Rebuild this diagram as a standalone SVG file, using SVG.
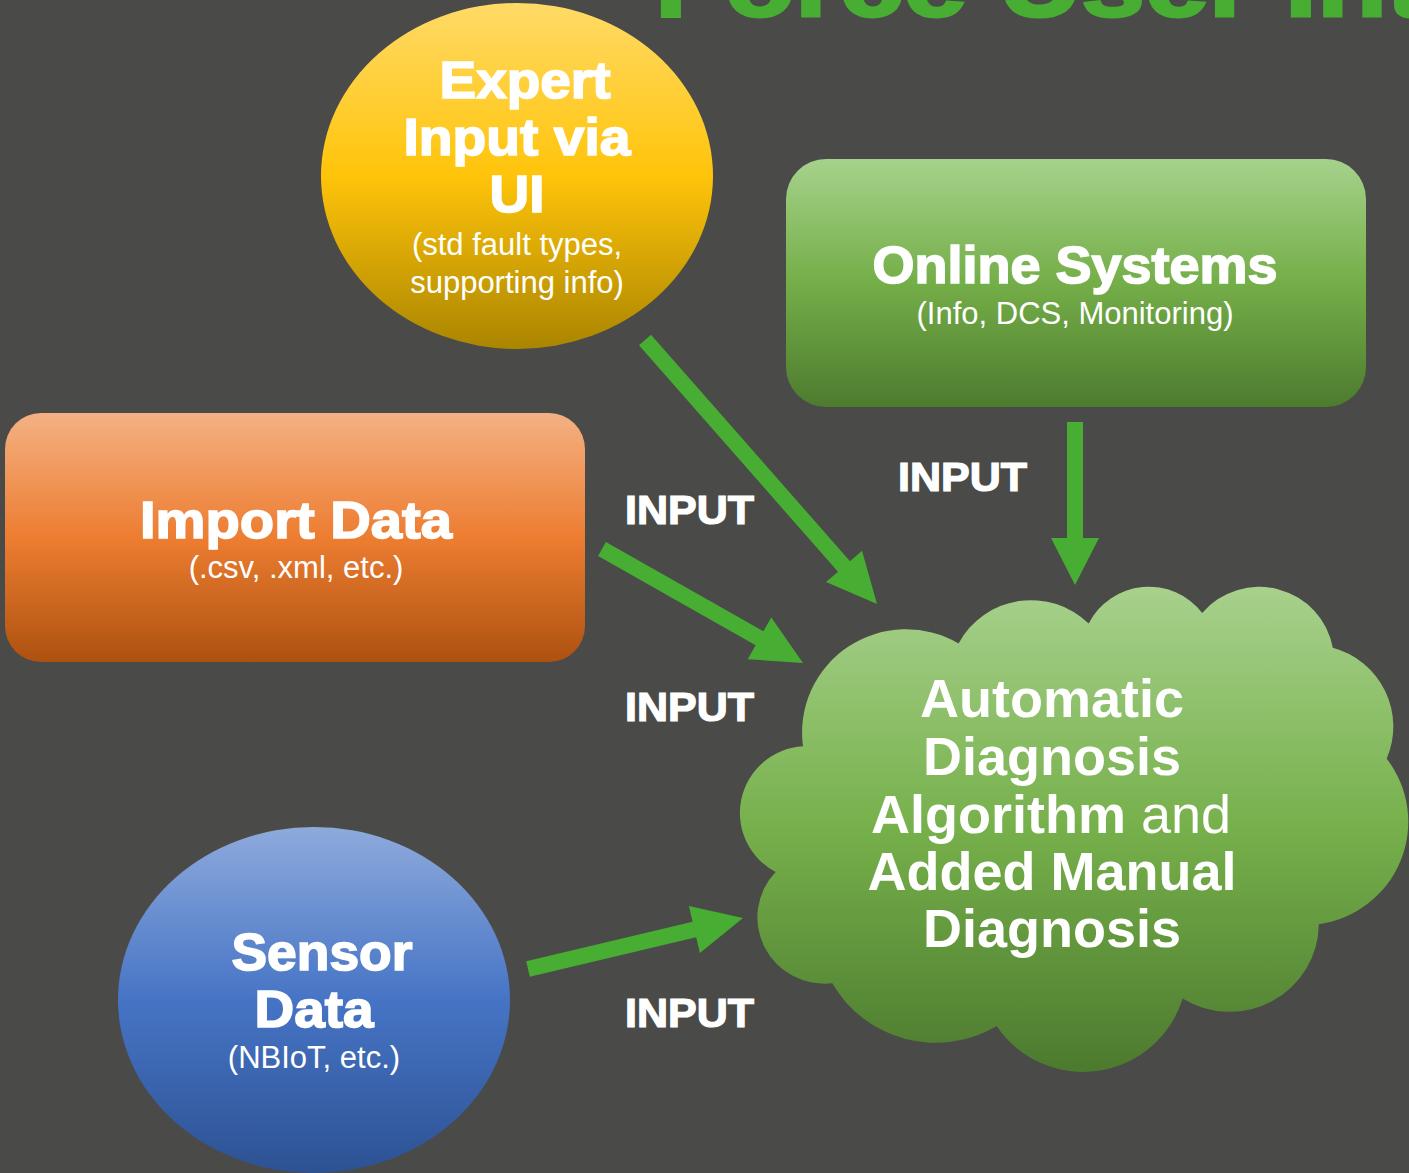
<svg xmlns="http://www.w3.org/2000/svg" width="1409" height="1173" viewBox="0 0 1409 1173">
<style>
.h{font-family:"Liberation Sans",Arial,sans-serif;font-weight:900;fill:#fff;stroke:#fff;stroke-width:1.6;paint-order:stroke;text-anchor:middle}
.hb{font-family:"Liberation Sans",Arial,sans-serif;font-weight:700;fill:#fff;font-size:54px;text-anchor:middle}
.s{font-family:"Liberation Sans",Arial,sans-serif;font-weight:400;fill:#fff;font-size:31px;text-anchor:middle}
.lbl{font-family:"Liberation Sans",Arial,sans-serif;font-weight:900;fill:#fff;stroke:#fff;stroke-width:1.2;paint-order:stroke;font-size:40px}
.arrow{fill:#48ad33}
</style>
<defs>
<linearGradient id="gY" x1="0" y1="0" x2="0" y2="1"><stop offset="0" stop-color="#ffda66"/><stop offset="0.5" stop-color="#ffc40a"/><stop offset="1" stop-color="#aa8500"/></linearGradient>
<linearGradient id="gG" x1="0" y1="0" x2="0" y2="1"><stop offset="0" stop-color="#a6d28b"/><stop offset="0.5" stop-color="#74ae48"/><stop offset="1" stop-color="#4d7b2f"/></linearGradient>
<linearGradient id="gC" gradientUnits="userSpaceOnUse" x1="0" y1="585" x2="0" y2="1072"><stop offset="0" stop-color="#a8d18d"/><stop offset="0.5" stop-color="#76b04b"/><stop offset="1" stop-color="#4c7a2e"/></linearGradient>
<linearGradient id="gO" x1="0" y1="0" x2="0" y2="1"><stop offset="0" stop-color="#f4b183"/><stop offset="0.5" stop-color="#ed7d31"/><stop offset="1" stop-color="#ad5110"/></linearGradient>
<linearGradient id="gB" x1="0" y1="0" x2="0" y2="1"><stop offset="0" stop-color="#8eaadc"/><stop offset="0.5" stop-color="#4674c5"/><stop offset="1" stop-color="#2d5293"/></linearGradient>
</defs>
<rect width="1409" height="1173" fill="#4a4a48"/>
<text x="655" y="16" font-family="Liberation Sans, Arial, sans-serif" font-weight="900" font-size="96" fill="#48ad33" stroke="#48ad33" stroke-width="3" textLength="770" lengthAdjust="spacingAndGlyphs">Force User Int</text>

<g id="connectors">
<polygon class="arrow" points="651,334.7 850,561.2 862,550.7 877,604 826,582 838,571.8 639,345.3"/>
<polygon class="arrow" points="605.9,542 763.4,631.3 771.3,617.4 803,663 747.7,659.2 755.6,645.3 598.1,556"/>
<polygon class="arrow" points="1067,422 1083,422 1083,538 1099,538 1075,585 1051,538 1067,538"/>
<polygon class="arrow" points="526.2,961.2 692.6,921.7 688.9,906.1 743,918 699.9,952.9 696.2,937.3 529.8,976.8"/>
<text class="lbl" x="625" y="524" textLength="129" lengthAdjust="spacingAndGlyphs">INPUT</text>
<text class="lbl" x="898" y="491" textLength="129" lengthAdjust="spacingAndGlyphs">INPUT</text>
<text class="lbl" x="625" y="721" textLength="129" lengthAdjust="spacingAndGlyphs">INPUT</text>
<text class="lbl" x="625" y="1027" textLength="129" lengthAdjust="spacingAndGlyphs">INPUT</text>
</g>

<g id="expert">
<ellipse cx="517" cy="176" rx="196" ry="173" fill="url(#gY)"/>
<text class="h" x="525" y="98" font-size="52" textLength="171" lengthAdjust="spacingAndGlyphs">Expert</text>
<text class="h" x="517" y="155" font-size="52" textLength="227" lengthAdjust="spacingAndGlyphs">Input via</text>
<text class="h" x="517" y="212" font-size="52" textLength="55" lengthAdjust="spacingAndGlyphs">UI</text>
<text class="s" x="517" y="255">(std fault types,</text>
<text class="s" x="517" y="293">supporting info)</text>
</g>

<g id="online">
<rect x="786" y="159" width="580" height="248" rx="40" fill="url(#gG)"/>
<text class="h" x="1075" y="283" font-size="52" textLength="405" lengthAdjust="spacingAndGlyphs">Online Systems</text>
<text class="s" x="1075" y="324">(Info, DCS, Monitoring)</text>
</g>

<g id="import">
<rect x="5" y="413" width="580" height="249" rx="36" fill="url(#gO)"/>
<text class="h" x="296" y="538" font-size="52" textLength="312" lengthAdjust="spacingAndGlyphs">Import Data</text>
<text class="s" x="296" y="578">(.csv, .xml, etc.)</text>
</g>

<g id="sensor">
<ellipse cx="314" cy="1000" rx="196" ry="173" fill="url(#gB)"/>
<text class="h" x="322" y="970" font-size="52" textLength="181" lengthAdjust="spacingAndGlyphs">Sensor</text>
<text class="h" x="314" y="1027" font-size="52" textLength="119" lengthAdjust="spacingAndGlyphs">Data</text>
<text class="s" x="314" y="1068">(NBIoT, etc.)</text>
</g>

<g id="diagnosis">
<path fill="url(#gC)" d="M 803,746.3 A 104,103.2 0 0 1 958.6,643.4 A 82.1,81.6 0 0 1 1088.7,623.6 A 67.2,66.7 0 0 1 1202.2,612.9 A 74.8,74 0 0 1 1332.8,647.7 A 82.1,81.7 0 0 1 1386.7,758.7 A 104.3,103.5 0 0 1 1318.8,924.2 A 89.1,88.3 0 0 1 1182.6,998.4 A 103.9,103.5 0 0 1 996.7,1025.9 A 118.8,118.4 0 0 1 832.4,983.3 A 67.1,66.4 0 0 1 775.6,871.9 A 66.9,66.7 0 0 1 803,746.3 Z"/>
<text class="hb" x="1052" y="717">Automatic</text>
<text class="hb" x="1052" y="775">Diagnosis</text>
<text class="hb" x="1051" y="833">Algorithm<tspan font-weight="400"> and</tspan></text>
<text class="hb" x="1052" y="890">Added Manual</text>
<text class="hb" x="1052" y="947">Diagnosis</text>
</g>
</svg>
